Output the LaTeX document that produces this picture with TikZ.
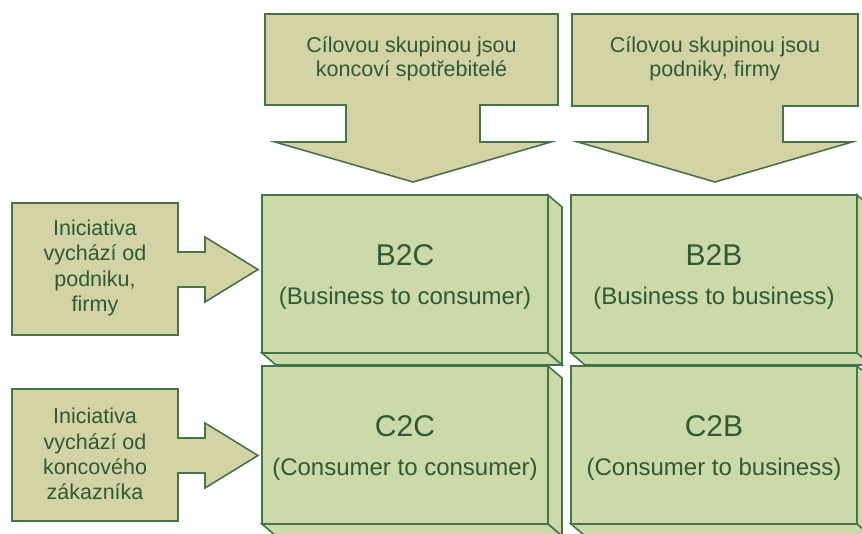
\documentclass[tikz,border=0pt]{standalone}
\usepackage{fontspec}
\setmainfont{Liberation Sans}
\definecolor{boxfill}{HTML}{CCDAA9}
\definecolor{arrowfill}{HTML}{D3D3A6}
\definecolor{edge}{HTML}{45744A}
\definecolor{ink}{HTML}{2F5A36}

\tikzset{
  face/.style={fill=boxfill, draw=edge, line width=1.6pt, line join=miter},
  frontbox/.style={face, minimum width=286pt, minimum height=158pt,
    inner sep=0pt, outer sep=0pt},
  titletext/.style={text=ink, anchor=base, inner sep=0pt,
    font=\fontsize{30}{34}\selectfont},
  subtext/.style={text=ink, anchor=base, inner sep=0pt,
    font=\fontsize{24}{28}\selectfont},
  blockarrow/.style={fill=arrowfill, draw=edge, line width=1.6pt, line join=miter},
  arrowtext/.style={text=ink, align=center, inner sep=0pt,
    font=\fontsize{21.5}{24}\selectfont},
  sidetext/.style={arrowtext, font=\fontsize{21.5}{25.3}\selectfont},
}

% right and bottom bevel faces of a front box
\newcommand\bevelsides[1]{%
  \filldraw[face] (#1.north east) -- ++(14,12)
    -- ([shift={(14,12)}]#1.south east) -- (#1.south east) -- cycle;
  \filldraw[face] (#1.south west) -- ++(14,12)
    -- ([shift={(14,12)}]#1.south east) -- (#1.south east) -- cycle;
}

\begin{document}
\begin{tikzpicture}[x=1pt,y=-1pt]
\useasboundingbox (0,0) rectangle (862,533);
\begin{scope}
\clip (0,0) rectangle (862,533);

% matrix of four boxes
\node[frontbox] (b2c) at (405,274) {};
\bevelsides{b2c}
\node[frontbox] (b2b) at (714,274) {};
\bevelsides{b2b}
\node[frontbox] (c2c) at (405,445) {};
\bevelsides{c2c}
\node[frontbox] (c2b) at (714,445) {};
\bevelsides{c2b}

\node[titletext] (b2c-t) at ([yshift=9pt]b2c.center) {B2C};
\node[subtext]   (b2c-s) at ([yshift=-30pt]b2c.center) {(Business to consumer)};
\node[titletext] (b2b-t) at ([yshift=9pt]b2b.center) {B2B};
\node[subtext]   (b2b-s) at ([yshift=-30pt]b2b.center) {(Business to business)};
\node[titletext] (c2c-t) at ([yshift=9pt]c2c.center) {C2C};
\node[subtext]   (c2c-s) at ([yshift=-30pt]c2c.center) {(Consumer to consumer)};
\node[titletext] (c2b-t) at ([yshift=9pt]c2b.center) {C2B};
\node[subtext]   (c2b-s) at ([yshift=-30pt]c2b.center) {(Consumer to business)};

% downward block arrows (target groups)
\filldraw[blockarrow] (265,14) -- (558,14) -- (558,105) -- (480,105) -- (480,142)
  -- (551,142) -- (413,182) -- (275,142) -- (346,142) -- (346,105) -- (265,105) -- cycle;
\node[arrowtext] (tg1) at (411.5,59) {Cílovou skupinou jsou\\koncoví spotřebitelé};

\filldraw[blockarrow] (572,14) -- (858,14) -- (858,106) -- (783,106) -- (783,142)
  -- (852,142) -- (715,182) -- (578,142) -- (648,142) -- (648,106) -- (572,106) -- cycle;
\node[arrowtext] (tg2) at (715,59) {Cílovou skupinou jsou\\podniky, firmy};

% rightward block arrows (initiative)
\filldraw[blockarrow] (12,203) -- (178,203) -- (178,252) -- (205,252) -- (205,237)
  -- (258,269.5) -- (205,302) -- (205,287) -- (178,287) -- (178,335) -- (12,335) -- cycle;
\node[sidetext] (in1) at (95,268) {Iniciativa\\vychází od\\podniku,\\firmy};

\filldraw[blockarrow] (12,389) -- (178,389) -- (178,438) -- (205,438) -- (205,423)
  -- (258,455.5) -- (205,488) -- (205,473) -- (178,473) -- (178,521) -- (12,521) -- cycle;
\node[sidetext] (in2) at (95,454) {Iniciativa\\vychází od\\koncového\\zákazníka};

\end{scope}
\end{tikzpicture}
\end{document}
